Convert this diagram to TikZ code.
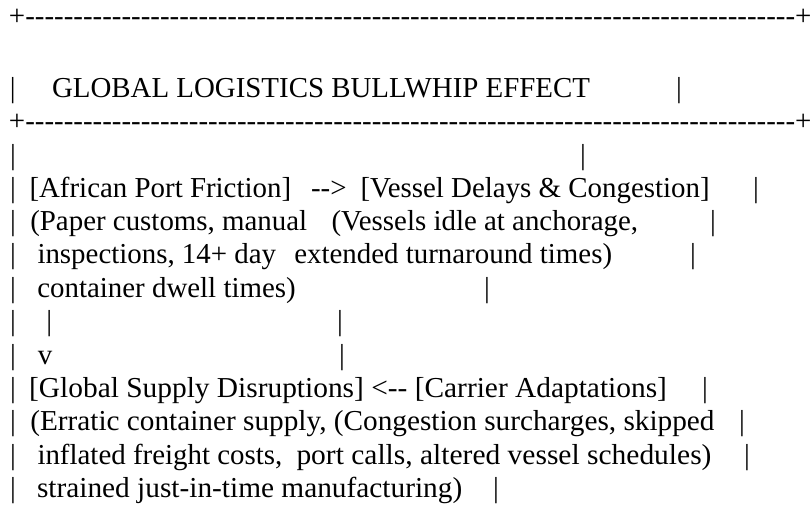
\documentclass[tikz,border=0pt]{standalone}
\usepackage{graphicx}
\usepackage{fontspec}
\setmainfont{Liberation Serif}
\newcommand\hy{\mbox{-}}
\newcommand\dashrow{\foreach\k in {1,...,80}{\hy}}
\newcommand\wider[2]{\scalebox{#1}[1]{#2}}
\tikzset{
  asc/.style={anchor=base west, inner sep=0pt, outer sep=0pt, text=black,
    font=\fontsize{28.9}{33.4}\selectfont},
  pipe/.style={anchor=base, inner sep=0pt, outer sep=0pt, text=black,
    font=\fontsize{28.9}{33.4}\selectfont},
}
\begin{document}
\begin{tikzpicture}[x=1pt,y=-1pt]
\useasboundingbox[fill=white] (0,0) rectangle (811,504);
% top border
\node[asc] (topline) at (9,25.5) {+\dashrow+};
% title
\node[pipe] (tl) at (12.7,97.2) {|};
\node[asc] (title) at (52,97.2) {GLOBAL LOGISTICS BULLWHIP EFFECT};
\node[pipe] (tr) at (679,97.2) {|};
% second border
\node[asc] (midline) at (9,130.6) {+\dashrow+};
% empty row
\node[pipe] (d1) at (13,164) {|};
\node[pipe] (d2) at (583,164) {|};
% row E
\node[pipe] (e0) at (13,197) {|};
\node[asc] (friction) at (29.5,197) {[African Port Friction]};
\node[asc] (arrowA) at (311,197) {\hy\hy>};
\node[asc] (delays) at (360.5,197) {[Vessel Delays \& Congestion]};
\node[pipe] (e9) at (756,197) {|};
% row F
\node[pipe] (f0) at (13,230.4) {|};
\node[asc] (fricA) at (30.3,230.4) {(Paper customs, manual};
\node[asc] (delA) at (331.6,230.4) {(Vessels idle at anchorage,};
\node[pipe] (f9) at (713,230.4) {|};
% row G
\node[pipe] (g0) at (13,263.8) {|};
\node[asc] (fricB) at (37.5,263.8) {inspections, 14+ day};
\node[asc] (delB) at (294.3,263.8) {extended turnaround times)};
\node[pipe] (g9) at (693,263.8) {|};
% row H
\node[pipe] (h0) at (13,297.2) {|};
\node[asc] (fricC) at (37.3,297.2) {container dwell times)};
\node[pipe] (h9) at (487,297.2) {|};
% row I
\node[pipe] (i0) at (13,330.6) {|};
\node[pipe] (shaft) at (49.3,330.6) {|};
\node[pipe] (i9) at (340,330.6) {|};
% row J
\node[pipe] (j0) at (13,364) {|};
\node[pipe] (head) at (45,364) {v};
\node[pipe] (j9) at (342,364) {|};
% row K
\node[pipe] (k0) at (13,397.4) {|};
\node[asc] (global) at (29.2,397.4) {\wider{1.017}{[Global Supply Disruptions] <\hy\hy{} [Carrier Adaptations]}};
\node[pipe] (k9) at (705,397.4) {|};
% row L
\node[pipe] (l0) at (13,430.8) {|};
\node[asc] (globA) at (30.3,430.8) {\wider{1.0125}{(Erratic container supply, (Congestion surcharges, skipped}};
\node[pipe] (l9) at (742,430.8) {|};
% row M
\node[pipe] (m0) at (13,464.2) {|};
\node[asc] (globB) at (37.5,464.2) {inflated freight costs,};
\node[asc] (carB) at (296.5,464.2) {\wider{1.02}{port calls, altered vessel schedules)}};
\node[pipe] (m9) at (747,464.2) {|};
% row N
\node[pipe] (n0) at (13,497.6) {|};
\node[asc] (globC) at (37,497.6) {\wider{1.015}{strained just-in-time manufacturing)}};
\node[pipe] (n9) at (496,497.6) {|};
\end{tikzpicture}
\end{document}
